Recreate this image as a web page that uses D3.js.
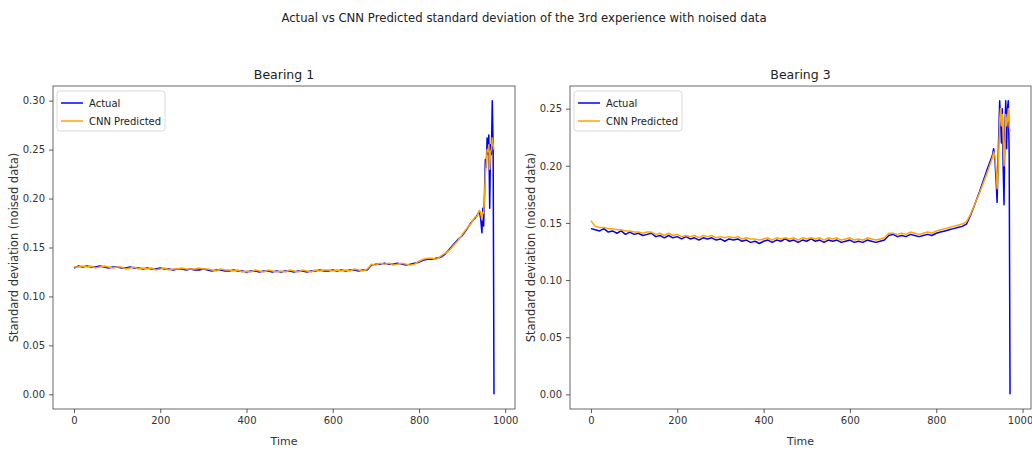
<!DOCTYPE html>
<html>
<head>
<meta charset="utf-8">
<script src="https://cdn.jsdelivr.net/npm/d3@7"></script>
<style>
  html, body { margin: 0; padding: 0; background: #fff; }
  svg { display: block; font-family: "DejaVu Sans", sans-serif; }
</style>
</head>
<body>
<svg id="chart" width="1032" height="450"></svg>
<script>
// ---------------- DATA ----------------
const suptitle = "Actual vs CNN Predicted standard deviation of the 3rd experience with noised data";
const panelTitles = ["Bearing 1", "Bearing 3"];
const seriesNames = ["Actual", "CNN Predicted"];
const xLabel = "Time";
const yLabel = "Standard deviation (noised data)";
const xTicks = [0, 200, 400, 600, 800, 1000];
const yTicksB1 = [0.00, 0.05, 0.10, 0.15, 0.20, 0.25, 0.30];
const yTicksB3 = [0.00, 0.05, 0.10, 0.15, 0.20, 0.25];

// Bearing 1
const b1Time = [0,10,20,30,40,50,60,70,80,90,100,110,120,130,140,150,160,170,180,190,
  200,210,220,230,240,250,260,270,280,290,300,310,320,330,340,350,360,370,380,390,
  400,410,420,430,440,450,460,470,480,490,500,510,520,530,540,550,560,570,580,590,
  600,610,620,630,640,650,660,670,680,690,700,710,720,730,740,750,760,770,780,790,
  800,810,820,830,840,850,860,870,880,890,900,910,920,930,
  935,940,943,946,948,950,952,954,956,958,960,962,964,966,968,970,972,974];
const b1Actual = [0.129,0.131,0.130,0.131,0.130,0.130,0.131,0.130,0.129,0.130,
  0.130,0.129,0.129,0.130,0.129,0.129,0.128,0.129,0.128,0.128,
  0.129,0.128,0.128,0.127,0.128,0.128,0.127,0.128,0.127,0.127,
  0.128,0.127,0.126,0.127,0.127,0.126,0.126,0.127,0.126,0.126,
  0.125,0.126,0.126,0.125,0.126,0.126,0.125,0.126,0.125,0.126,
  0.126,0.125,0.126,0.126,0.125,0.126,0.126,0.127,0.126,0.126,
  0.127,0.126,0.127,0.126,0.127,0.127,0.126,0.127,0.127,0.132,
  0.133,0.133,0.134,0.133,0.133,0.134,0.133,0.132,0.133,0.134,
  0.135,0.137,0.138,0.138,0.139,0.140,0.143,0.148,0.153,0.158,
  0.162,0.168,0.175,0.180,
  0.183,0.187,0.180,0.165,0.190,0.172,0.205,0.240,0.232,0.262,0.245,0.265,0.190,0.255,0.245,0.300,0.250,0.000];
const b1Pred = [0.130,0.130,0.131,0.130,0.131,0.129,0.130,0.131,0.130,0.129,
  0.130,0.130,0.128,0.129,0.130,0.128,0.129,0.128,0.129,0.127,
  0.128,0.129,0.127,0.128,0.128,0.129,0.128,0.128,0.128,0.129,
  0.128,0.128,0.127,0.126,0.128,0.127,0.127,0.126,0.127,0.125,
  0.126,0.125,0.127,0.126,0.125,0.127,0.126,0.125,0.126,0.125,
  0.127,0.126,0.125,0.127,0.126,0.125,0.127,0.126,0.127,0.127,
  0.126,0.127,0.126,0.127,0.126,0.128,0.127,0.126,0.128,0.133,
  0.132,0.134,0.133,0.134,0.132,0.133,0.134,0.133,0.132,0.133,
  0.136,0.138,0.139,0.139,0.138,0.141,0.144,0.147,0.152,0.157,
  0.163,0.169,0.174,0.181,
  0.182,0.188,0.186,0.178,0.186,0.185,0.200,0.225,0.235,0.250,0.248,0.255,0.230,0.248,0.250,0.262,0.255,0.250];

// Bearing 3
const b3Time = [0,10,20,30,40,50,60,70,80,90,100,110,120,130,140,150,160,170,180,190,
  200,210,220,230,240,250,260,270,280,290,300,310,320,330,340,350,360,370,380,390,
  400,410,420,430,440,450,460,470,480,490,500,510,520,530,540,550,560,570,580,590,
  600,610,620,630,640,650,660,670,680,690,700,710,720,730,740,750,760,770,780,790,
  800,810,820,830,840,850,860,870,880,890,900,910,920,
  930,933,936,939,941,943,945,947,949,951,953,955,957,959,961,963,965,967,969,971];
const b3Actual = [0.145,0.144,0.143,0.145,0.142,0.143,0.141,0.143,0.140,0.142,
  0.140,0.141,0.139,0.140,0.141,0.138,0.139,0.137,0.139,0.137,
  0.138,0.136,0.138,0.136,0.137,0.135,0.137,0.136,0.137,0.135,
  0.136,0.134,0.136,0.135,0.136,0.134,0.135,0.133,0.134,0.132,
  0.134,0.135,0.133,0.135,0.134,0.136,0.134,0.135,0.133,0.135,
  0.134,0.136,0.134,0.135,0.133,0.135,0.134,0.135,0.133,0.134,
  0.135,0.133,0.134,0.133,0.135,0.134,0.133,0.134,0.135,0.139,
  0.140,0.138,0.139,0.138,0.140,0.139,0.138,0.139,0.140,0.139,
  0.141,0.142,0.143,0.144,0.145,0.146,0.147,0.149,0.157,0.167,
  0.177,0.188,0.199,
  0.209,0.215,0.205,0.185,0.168,0.200,0.230,0.257,0.240,0.220,0.250,0.200,0.166,0.230,0.257,0.215,0.250,0.257,0.210,0.000];
const b3Pred = [0.152,0.147,0.146,0.146,0.145,0.145,0.144,0.144,0.143,0.143,
  0.142,0.142,0.141,0.142,0.142,0.140,0.141,0.139,0.141,0.139,
  0.140,0.138,0.139,0.138,0.139,0.137,0.139,0.138,0.139,0.137,
  0.138,0.137,0.138,0.137,0.138,0.136,0.137,0.136,0.136,0.135,
  0.136,0.137,0.135,0.137,0.136,0.137,0.136,0.137,0.135,0.137,
  0.136,0.137,0.136,0.137,0.135,0.137,0.136,0.137,0.135,0.136,
  0.137,0.135,0.136,0.135,0.137,0.136,0.135,0.136,0.137,0.141,
  0.141,0.140,0.141,0.140,0.142,0.141,0.140,0.141,0.142,0.141,
  0.143,0.144,0.145,0.146,0.147,0.148,0.149,0.151,0.158,0.167,
  0.176,0.186,0.196,
  0.207,0.212,0.208,0.195,0.180,0.195,0.215,0.240,0.250,0.235,0.245,0.225,0.200,0.220,0.245,0.235,0.240,0.250,0.235,0.230];

const colors = ["#0000ff", "#ffa500"];

// ---------------- DRAW ----------------
const svg = d3.select("#chart");
svg.append("rect").attr("width", 1032).attr("height", 450).attr("fill", "#fff");

svg.append("text")
  .attr("x", 524).attr("y", 22)
  .attr("text-anchor", "middle")
  .attr("font-size", 11.7)
  .attr("fill", "#222")
  .text(suptitle);

const panels = [
  { left: 53, right: 515, title: panelTitles[0], t: b1Time, a: b1Actual, p: b1Pred, yTicks: yTicksB1, ylabX: 18 },
  { left: 570, right: 1031, title: panelTitles[1], t: b3Time, a: b3Actual, p: b3Pred, yTicks: yTicksB3, ylabX: 535 }
];
const plotTop = 86, plotBottom = 409;

function padded(ext) {
  const r = ext[1] - ext[0];
  return [ext[0] - 0.05 * r, ext[1] + 0.05 * r];
}

panels.forEach((P, pi) => {
  const x = d3.scaleLinear().domain(padded(d3.extent(P.t))).range([P.left, P.right]);
  const yMax = Math.max(d3.max(P.a), d3.max(P.p));
  const yMin = Math.min(d3.min(P.a), d3.min(P.p));
  const y = d3.scaleLinear().domain(padded([yMin, yMax])).range([plotBottom, plotTop]);

  const g = svg.append("g");
  const clipId = "clip" + P.left;
  svg.append("clipPath").attr("id", clipId)
    .append("rect").attr("x", P.left).attr("y", plotTop).attr("width", P.right - P.left).attr("height", plotBottom - plotTop);

  const line = (vals) => d3.line().x((d, i) => x(P.t[i])).y(d => y(d))(vals);
  const lg = g.append("g").attr("clip-path", `url(#${clipId})`);
  lg.append("path").attr("d", line(P.a)).attr("fill", "none")
    .attr("stroke", colors[0]).attr("stroke-width", 1.5).attr("stroke-linejoin", "round");
  lg.append("path").attr("d", line(P.p)).attr("fill", "none")
    .attr("stroke", colors[1]).attr("stroke-width", 1.5).attr("stroke-linejoin", "round");

  // axes
  const xAxis = d3.axisBottom(x).tickValues(xTicks).tickFormat(d3.format("d")).tickSize(4).tickPadding(4);
  const yAxis = d3.axisLeft(y).tickValues(P.yTicks).tickFormat(d3.format(".2f")).tickSize(4).tickPadding(4);
  const gx = g.append("g").attr("transform", `translate(0,${plotBottom})`).call(xAxis);
  const gy = g.append("g").attr("transform", `translate(${P.left},0)`).call(yAxis);
  [gx, gy].forEach(a => {
    a.select(".domain").remove();
    a.selectAll(".tick line").attr("stroke", "#333").attr("stroke-width", 0.8);
    a.selectAll(".tick text").attr("font-size", 10).attr("fill", "#333").attr("font-family", "DejaVu Sans, sans-serif");
  });
  if (pi === 1) {
    // keep the last tick label inside the window
    gx.selectAll(".tick text").filter(d => d === 1000).attr("text-anchor", "end").attr("dx", "1.02em");
  }

  // frame
  g.append("rect").attr("x", P.left).attr("y", plotTop)
    .attr("width", P.right - P.left).attr("height", plotBottom - plotTop)
    .attr("fill", "none").attr("stroke", "#444").attr("stroke-width", 0.8);

  // titles
  const cx = (P.left + P.right) / 2;
  g.append("text").attr("x", cx).attr("y", 79).attr("text-anchor", "middle")
    .attr("font-size", 12.5).attr("fill", "#222").text(P.title);
  g.append("text").attr("x", cx).attr("y", 445).attr("text-anchor", "middle")
    .attr("font-size", 11).attr("fill", "#333").text(xLabel);
  g.append("text").attr("transform", `translate(${P.ylabX},${(plotTop + plotBottom) / 2}) rotate(-90)`)
    .attr("text-anchor", "middle").attr("font-size", 11.5).attr("fill", "#333").text(yLabel);

  // legend
  const lx = P.left + 4, ly = plotTop + 5;
  const leg = g.append("g");
  leg.append("rect").attr("x", lx).attr("y", ly).attr("width", 108).attr("height", 40)
    .attr("rx", 3).attr("fill", "#fff").attr("fill-opacity", 0.8)
    .attr("stroke", "#d0d0d0").attr("stroke-width", 0.8);
  seriesNames.forEach((name, i) => {
    const yy = ly + 12 + i * 18;
    leg.append("line").attr("x1", lx + 4).attr("x2", lx + 26).attr("y1", yy).attr("y2", yy)
      .attr("stroke", colors[i]).attr("stroke-width", 1.5);
    leg.append("text").attr("x", lx + 32).attr("y", yy + 3.5).attr("font-size", 10)
      .attr("fill", "#222").text(name);
  });
});
</script>
</body>
</html>
